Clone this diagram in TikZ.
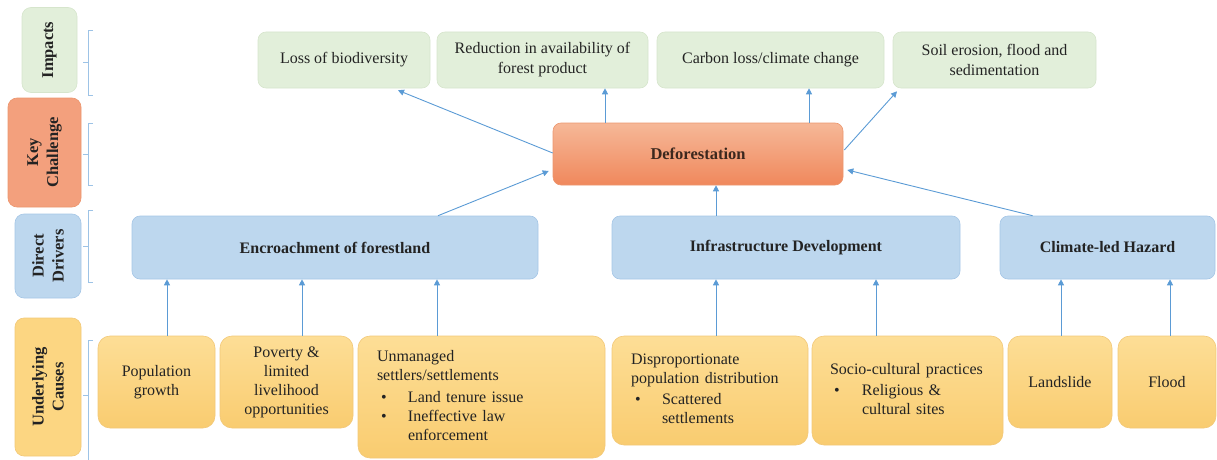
\documentclass[tikz,border=0pt]{standalone}
\usepackage{fontspec}
\setmainfont{Liberation Serif}
\usetikzlibrary{arrows.meta,calc}

\definecolor{impfill}{RGB}{226,239,218}
\definecolor{impdraw}{RGB}{214,229,204}
\definecolor{drvfill}{RGB}{189,215,238}
\definecolor{drvdraw}{RGB}{165,198,230}
\definecolor{cautop}{RGB}{253,222,150}
\definecolor{caubot}{RGB}{249,204,112}
\definecolor{caudraw}{RGB}{242,200,120}
\definecolor{keytop}{RGB}{246,184,152}
\definecolor{keybot}{RGB}{240,136,92}
\definecolor{keydraw}{RGB}{236,150,110}
\definecolor{arrowc}{RGB}{91,155,213}
\definecolor{bracec}{RGB}{157,195,230}
\definecolor{txt}{RGB}{35,35,35}

\begin{document}
\begin{tikzpicture}[x=1pt,y=-1pt,
  box/.style={rounded corners=8pt, inner sep=2pt, align=center, text=txt,
    font=\fontsize{16}{20}\selectfont},
  imp/.style={box, fill=impfill, draw=impdraw, line width=0.6pt},
  drv/.style={box, fill=drvfill, draw=drvdraw, line width=0.6pt,
    font=\bfseries\fontsize{16}{20}\selectfont},
  keybox/.style={box, top color=keytop, bottom color=keybot, draw=keydraw,
    line width=0.6pt, font=\bfseries\fontsize{16.5}{20}\selectfont,
    text={rgb,255:red,60;green,40;blue,30}},
  cause/.style={box, top color=cautop, bottom color=caubot, draw=caudraw,
    line width=0.6pt, rounded corners=12pt, font=\fontsize{16}{19}\selectfont},
  lab/.style={box, rotate=90, font=\bfseries\fontsize{16.5}{20}\selectfont,
    rounded corners=9pt, line width=0.6pt},
  arr/.style={draw=arrowc, line width=0.9pt, -{Triangle[length=6pt,width=6pt]}},
  brace/.style={draw=bracec, line width=0.9pt}
]
\useasboundingbox (0,0) rectangle (1217,460);

% ---- level labels on the left ----
\node[lab, fill=impfill, draw=impdraw, minimum width=85pt, minimum height=55pt]
  (limp) at (49.5,50) {Impacts};
\node[lab, fill={rgb,255:red,243;green,160;blue,125}, draw=keydraw,
  minimum width=109pt, minimum height=73pt]
  (lkey) at (44.5,152.5) {Key\\Challenge};
\node[lab, fill=drvfill, draw=drvdraw, minimum width=84pt, minimum height=66pt]
  (ldrv) at (48,256) {Direct\\Drivers};
\node[lab, fill={rgb,255:red,252;green,214;blue,130}, draw=caudraw,
  minimum width=138pt, minimum height=66pt]
  (lcau) at (48,387) {Underlying\\Causes};

% ---- brackets ----
\draw[brace] (93,30) -- (88,30) -- (88,95) -- (93,95);
\draw[brace] (88,62) -- (83,62);
\draw[brace] (93,123) -- (88,123) -- (88,185) -- (93,185);
\draw[brace] (88,154) -- (83,154);
\draw[brace] (93,210) -- (88,210) -- (88,282) -- (93,282);
\draw[brace] (88,246) -- (83,246);
\draw[brace] (93,340) -- (88,340) -- (88,460);
\draw[brace] (88,395) -- (83,395);

% ---- impacts ----
\node[imp, minimum width=172pt, minimum height=56pt] (i1) at (344,60) {Loss of biodiversity};
\node[imp, minimum width=211pt, minimum height=56pt] (i2) at (542.5,60) {Reduction in availability of\\forest product};
\node[imp, minimum width=227pt, minimum height=56pt] (i3) at (770.5,60) {Carbon loss/climate change};
\node[imp, minimum width=203pt, minimum height=56pt] (i4) at (994.5,60) {Soil erosion, flood and\\sedimentation};

% ---- key challenge ----
\node[keybox, minimum width=290pt, minimum height=62pt] (def) at (698,154) {Deforestation};

% ---- direct drivers ----
\node[drv, minimum width=406pt, minimum height=63pt] (d1) at (335,247.5) {Encroachment of forestland};
\node[drv, minimum width=348pt, minimum height=63pt] (d2) at (786,247.5) {Infrastructure Development};
\node[drv, minimum width=215pt, minimum height=63pt] (d3) at (1107.5,247.5) {Climate-led Hazard};

% ---- underlying causes ----
\node[cause, minimum width=117pt, minimum height=92pt] (u1) at (156.5,382) {Population\\growth};
\node[cause, minimum width=133pt, minimum height=92pt] (u2) at (286.5,382) {Poverty \&\\limited\\livelihood\\opportunities};
\node[cause, minimum width=247pt, minimum height=122pt, inner xsep=19pt,
  text width=209pt, align=left] (u3) at (481.5,397)
  {\begin{tabular}{@{\hspace{4pt}}p{27pt}@{}l@{}}
   \multicolumn{2}{@{}l@{}}{Unmanaged}\\
   \multicolumn{2}{@{}l@{}}{settlers/settlements}\\[3pt]
   \textbullet & Land tenure issue\\
   \textbullet & Ineffective law\\
               & enforcement
   \end{tabular}};
\node[cause, minimum width=196pt, minimum height=109pt, inner xsep=19pt,
  text width=158pt, align=left] (u4) at (710,390.5)
  {\begin{tabular}{@{\hspace{4pt}}p{27pt}@{}l@{}}
   \multicolumn{2}{@{}l@{}}{Disproportionate}\\
   \multicolumn{2}{@{}l@{}}{population distribution}\\[2pt]
   \textbullet & Scattered\\
               & settlements
   \end{tabular}};
\node[cause, minimum width=191pt, minimum height=109pt, inner xsep=18pt,
  text width=155pt, align=left] (u5) at (907.5,390.5)
  {\begin{tabular}{@{\hspace{4pt}}p{28pt}@{}l@{}}
   \multicolumn{2}{@{}l@{}}{Socio-cultural practices}\\[2pt]
   \textbullet & Religious \&\\
               & cultural sites
   \end{tabular}};
\node[cause, minimum width=104pt, minimum height=92pt] (u6) at (1060,382) {Landslide};
\node[cause, minimum width=98pt, minimum height=92pt] (u7) at (1167,382) {Flood};

% ---- connector start points on box edges ----
\coordinate (c1) at ($(u1.north)+(10.5,0)$);
\coordinate (c2) at ($(u2.north)+(15.5,0)$);
\coordinate (c3) at ($(u3.north)+(-44.5,0)$);
\coordinate (c4) at ($(u4.north)+(6,0)$);
\coordinate (c5) at ($(u5.north)+(-31.5,0)$);
\coordinate (c6) at ($(u6.north)+(1,0)$);
\coordinate (c7) at ($(u7.north)+(3,0)$);
\coordinate (p1) at ($(d1.north)+(103,0)$);
\coordinate (p2) at ($(d2.north)+(-70,0)$);
\coordinate (p3) at ($(d3.north)+(-75,0)$);
\coordinate (q1) at ($(def.west)+(0,-1)$);
\coordinate (q2) at ($(def.north)+(-93,0)$);
\coordinate (q3) at ($(def.north)+(111,0)$);
\coordinate (q4) at ($(def.east)+(1,-4)$);

% ---- causes -> drivers ----
\draw[arr] (c1) -- (c1 |- d1.south);
\draw[arr] (c2) -- (c2 |- d1.south);
\draw[arr] (c3) -- (c3 |- d1.south);
\draw[arr] (c4) -- (c4 |- d2.south);
\draw[arr] (c5) -- (c5 |- d2.south);
\draw[arr] (c6) -- (c6 |- d3.south);
\draw[arr] (c7) -- (c7 |- d3.south);

% ---- drivers -> deforestation ----
\draw[arr] (p1) -- ($(def.west)+(-4,17)$);
\draw[arr] (p2) -- (p2 |- def.south);
\draw[arr] (p3) -- ($(def.east)+(4,16)$);

% ---- deforestation -> impacts ----
\draw[arr] (q1) -- ($(i1.south)+(54,2)$);
\draw[arr] (q2) -- (q2 |- i2.south);
\draw[arr] (q3) -- (q3 |- i3.south);
\draw[arr] (q4) -- ($(i4.south)+(-97.5,3)$);
\end{tikzpicture}
\end{document}
